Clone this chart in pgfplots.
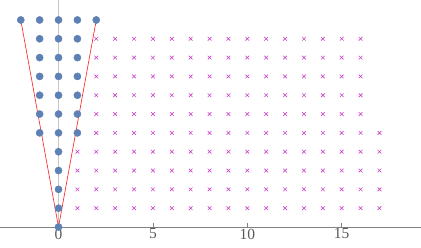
\documentclass[border=0pt]{standalone}
\usepackage{pgfplots}
\pgfplotsset{compat=1.18}
\usepackage{fontspec}
\setmainfont{Liberation Serif}
\definecolor{mblue}{rgb}{0.368417,0.506779,0.709798}
\definecolor{mmag}{rgb}{0.80,0.25,0.80}
\definecolor{axgray}{gray}{0.5}
\definecolor{labgray}{gray}{0.35}
\definecolor{gridgray}{gray}{0.78}
\begin{document}
\begin{tikzpicture}
\begin{axis}[
  scale only axis,
  width=421pt, height=227pt,
  xmin=-3.1, xmax=19.2,
  ymin=0, ymax=12.06,
  axis x line=bottom,
  axis y line=none,
  axis line style={axgray, line width=0.6pt, -},
  xtick={0,5,10,15},
  tick align=inside,
  major tick length=4pt,
  tick style={axgray, line width=0.5pt},
  xticklabel style={font=\fontsize{15.5}{17}\selectfont, text=labgray, inner sep=1.5pt},
  /pgf/number format/assume math mode=true,
  clip=false,
]
\addplot[gridgray, line width=1.8pt] coordinates {(0,0) (0,12.06)};
\addplot[red!90!white, line width=0.6pt] coordinates {(-2,11) (0,0) (2,11)};
\addplot[only marks, mark=x, mark size=2.6pt, mmag, line width=0.6pt] table {
x y
1 1
2 1
3 1
4 1
5 1
6 1
7 1
8 1
9 1
10 1
11 1
12 1
13 1
14 1
15 1
16 1
17 1
1 2
2 2
3 2
4 2
5 2
6 2
7 2
8 2
9 2
10 2
11 2
12 2
13 2
14 2
15 2
16 2
17 2
1 3
2 3
3 3
4 3
5 3
6 3
7 3
8 3
9 3
10 3
11 3
12 3
13 3
14 3
15 3
16 3
17 3
1 4
2 4
3 4
4 4
5 4
6 4
7 4
8 4
9 4
10 4
11 4
12 4
13 4
14 4
15 4
16 4
17 4
2 5
3 5
4 5
5 5
6 5
7 5
8 5
9 5
10 5
11 5
12 5
13 5
14 5
15 5
16 5
17 5
2 6
3 6
4 6
5 6
6 6
7 6
8 6
9 6
10 6
11 6
12 6
13 6
14 6
15 6
16 6
2 7
3 7
4 7
5 7
6 7
7 7
8 7
9 7
10 7
11 7
12 7
13 7
14 7
15 7
16 7
2 8
3 8
4 8
5 8
6 8
7 8
8 8
9 8
10 8
11 8
12 8
13 8
14 8
15 8
16 8
2 9
3 9
4 9
5 9
6 9
7 9
8 9
9 9
10 9
11 9
12 9
13 9
14 9
15 9
16 9
2 10
3 10
4 10
5 10
6 10
7 10
8 10
9 10
10 10
11 10
12 10
13 10
14 10
15 10
16 10
};
\addplot[only marks, mark=*, mark size=3.6pt, mblue, mark options={draw=none, fill=mblue}] table {
x y
0 0
0 1
0 2
0 3
0 4
-1 5
0 5
1 5
-1 6
0 6
1 6
-1 7
0 7
1 7
-1 8
0 8
1 8
-1 9
0 9
1 9
-1 10
0 10
1 10
-2 11
-1 11
0 11
1 11
2 11
};
\end{axis}
\pgfresetboundingbox
\path[use as bounding box] (0,-20pt) rectangle (421pt,227pt);
\end{tikzpicture}
\end{document}
